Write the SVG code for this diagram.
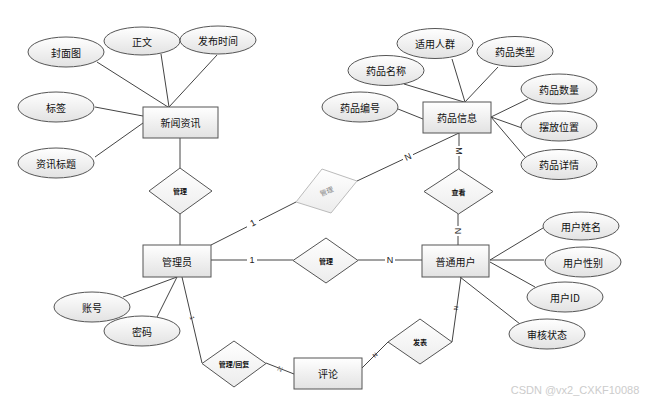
<svg xmlns="http://www.w3.org/2000/svg" width="655" height="404" viewBox="0 0 655 404">
<defs>
<linearGradient id="g" x1="0" y1="0" x2="0" y2="1">
<stop offset="0" stop-color="#ffffff"/>
<stop offset="1" stop-color="#e2e2e2"/>
</linearGradient>
<linearGradient id="gd" x1="0" y1="0" x2="0" y2="1">
<stop offset="0" stop-color="#ffffff"/>
<stop offset="1" stop-color="#ececec"/>
</linearGradient>
<style>
.b{fill:url(#g);stroke:#555;stroke-width:1}
.e{fill:url(#g);stroke:#555;stroke-width:1}
.d{fill:url(#gd);stroke:#555;stroke-width:1}
.dg{fill:url(#gd);stroke:#bbb;stroke-width:1}
.t{font-family:"Noto Sans CJK SC","Liberation Sans",sans-serif;font-size:10px;fill:#111;text-anchor:middle;dominant-baseline:central}
.s{font-family:"Noto Sans CJK SC","Liberation Sans",sans-serif;font-size:7px;font-weight:bold;fill:#111;text-anchor:middle;dominant-baseline:central}
.l{font-family:"Liberation Sans",sans-serif;font-size:9px;fill:#222;text-anchor:middle;dominant-baseline:central}
.c line,.c polyline{stroke:#444;stroke-width:1;fill:none}
</style>
</defs>
<rect width="655" height="404" fill="#fff"/>
<g class="c" id="connectors">
<line x1="97" y1="62" x2="168" y2="107"/>
<line x1="161" y1="54" x2="169" y2="107"/>
<line x1="217" y1="55" x2="169" y2="107"/>
<line x1="95" y1="107" x2="143" y2="116"/>
<line x1="95" y1="157" x2="143" y2="123"/>
<line x1="180" y1="138" x2="180" y2="168"/>
<line x1="180" y1="214" x2="180" y2="245"/>
<line x1="211" y1="245" x2="296" y2="202"/>
<line x1="211" y1="260" x2="293" y2="260"/>
<line x1="123" y1="297" x2="177" y2="277"/>
<line x1="157" y1="317" x2="177" y2="277"/>
<line x1="182" y1="277" x2="202" y2="363"/>
<line x1="266" y1="363" x2="294" y2="374"/>
<line x1="358" y1="260" x2="422" y2="260"/>
<line x1="459" y1="133" x2="459" y2="169"/>
<line x1="458" y1="214" x2="458" y2="245"/>
<line x1="459" y1="133" x2="357" y2="181"/>
<line x1="452" y1="59" x2="465" y2="102"/>
<line x1="498" y1="67" x2="465" y2="102"/>
<line x1="404" y1="84" x2="464" y2="102"/>
<line x1="398" y1="109" x2="423" y2="119"/>
<line x1="528" y1="99" x2="491" y2="117"/>
<line x1="491" y1="117" x2="522" y2="128"/>
<line x1="491" y1="117" x2="525" y2="157"/>
<line x1="490" y1="260" x2="543" y2="228"/>
<line x1="490" y1="260" x2="544" y2="260"/>
<line x1="490" y1="262" x2="535" y2="287"/>
<line x1="460" y1="277" x2="520" y2="324"/>
<line x1="461" y1="277" x2="452" y2="342"/>
<line x1="388" y1="342" x2="362" y2="368"/>
<rect x="247" y="217" width="12" height="11" fill="#fff" stroke="none"/>
<text class="l" x="253" y="223" transform="rotate(-27 253 223)">1</text>
<rect x="247" y="255" width="10" height="10" fill="#fff" stroke="none"/>
<text class="l" x="252" y="260">1</text>
<rect x="385" y="255" width="10" height="10" fill="#fff" stroke="none"/>
<text class="l" x="390" y="260">N</text>
<rect x="403" y="152" width="10" height="10" fill="#fff" stroke="none"/>
<text class="l" x="408" y="157" transform="rotate(-25 408 157)">N</text>
<rect x="454" y="146" width="10" height="10" fill="#fff" stroke="none"/>
<text class="l" x="459" y="151" transform="rotate(90 459 151)">M</text>
<rect x="453" y="226" width="10" height="10" fill="#fff" stroke="none"/>
<text class="l" x="458" y="231" transform="rotate(90 458 231)">N</text>
<text class="l" x="456" y="308" style="font-size:6px" transform="rotate(-82 456 308)">N</text>
<text class="l" x="375" y="355" style="font-size:6px" transform="rotate(-45 375 355)">N</text>
<text class="l" x="192" y="318" style="font-size:6px" transform="rotate(77 192 318)">1</text>
<text class="l" x="280" y="369" style="font-size:7px;fill:#777" transform="rotate(22 280 369)">N</text>
</g>
<g id="xinwen"><rect class="b" x="143" y="107" width="75" height="31"/><text class="t" x="180.5" y="122.5">新闻资讯</text></g>
<g id="fengmiantu"><ellipse class="e" cx="66" cy="52" rx="38" ry="15"/><text class="t" x="66" y="52">封面图</text></g>
<g id="zhengwen"><ellipse class="e" cx="142" cy="41" rx="38" ry="14"/><text class="t" x="142" y="41">正文</text></g>
<g id="fabushijian"><ellipse class="e" cx="218" cy="40" rx="38" ry="14"/><text class="t" x="218" y="40">发布时间</text></g>
<g id="biaoqian"><ellipse class="e" cx="56" cy="107" rx="38" ry="15"/><text class="t" x="56" y="107">标签</text></g>
<g id="zixunbiaoti"><ellipse class="e" cx="56" cy="163" rx="38" ry="15"/><text class="t" x="56" y="163">资讯标题</text></g>
<g id="guanli1"><polygon class="d" points="180,168 212,191 180,214 149,191"/><text class="s" x="180" y="191">管理</text></g>
<g id="guanliyuan"><rect class="b" x="143" y="245" width="68" height="32"/><text class="t" x="177" y="261">管理员</text></g>
<g id="zhanghao"><ellipse class="e" cx="92" cy="307" rx="38" ry="15"/><text class="t" x="92" y="307">账号</text></g>
<g id="mima"><ellipse class="e" cx="142" cy="331" rx="38" ry="15"/><text class="t" x="142" y="331">密码</text></g>
<g id="guanli2"><polygon class="dg" points="322,169 357,181 331,213 296,202"/><text class="s" x="326.5" y="191" style="fill:#888;font-weight:normal" transform="rotate(-22 326.5 191)">管理</text></g>
<g id="guanli3"><polygon class="d" points="326,238 358,260.5 326,283 293,260.5"/><text class="s" x="326" y="260.5">管理</text></g>
<g id="guanlihuifu"><polygon class="d" points="234,341 266,363.5 234,387 202,363.5"/><text class="s" x="234" y="364">管理/回复</text></g>
<g id="pinglun"><rect class="b" x="294" y="358" width="68" height="31"/><text class="t" x="328" y="373.5">评论</text></g>
<g id="fabiao"><polygon class="d" points="420,319 452,342 420,364 388,342"/><text class="s" x="420" y="342">发表</text></g>
<g id="putongyonghu"><rect class="b" x="422" y="245" width="67" height="32"/><text class="t" x="455.5" y="261">普通用户</text></g>
<g id="chakan"><polygon class="d" points="458.5,169 493,191.5 458.5,214 424,191.5"/><text class="s" x="458.5" y="191.5">查看</text></g>
<g id="yaopinxinxi"><rect class="b" x="423" y="102" width="68" height="31"/><text class="t" x="457" y="117.5">药品信息</text></g>
<g id="shiyongrenqun"><ellipse class="e" cx="435" cy="43.5" rx="38" ry="15"/><text class="t" x="435" y="43.5">适用人群</text></g>
<g id="yaopinleixing"><ellipse class="e" cx="515" cy="51.5" rx="38" ry="15"/><text class="t" x="515" y="51.5">药品类型</text></g>
<g id="yaopinmingcheng"><ellipse class="e" cx="386" cy="70.5" rx="38" ry="15"/><text class="t" x="386" y="70.5">药品名称</text></g>
<g id="yaopinbianhao"><ellipse class="e" cx="360" cy="107" rx="38" ry="15"/><text class="t" x="360" y="107">药品编号</text></g>
<g id="yaopinshuliang"><ellipse class="e" cx="559" cy="89" rx="38" ry="15"/><text class="t" x="559" y="89">药品数量</text></g>
<g id="baifangweizhi"><ellipse class="e" cx="559" cy="126" rx="38" ry="15"/><text class="t" x="559" y="126">摆放位置</text></g>
<g id="yaopinxiangqing"><ellipse class="e" cx="559" cy="164.5" rx="38" ry="15"/><text class="t" x="559" y="164.5">药品详情</text></g>
<g id="yonghuxingming"><ellipse class="e" cx="581" cy="226" rx="38" ry="14"/><text class="t" x="581" y="226">用户姓名</text></g>
<g id="yonghuxingbie"><ellipse class="e" cx="583" cy="262" rx="38" ry="15"/><text class="t" x="583" y="262">用户性别</text></g>
<g id="yonghuid"><ellipse class="e" cx="565" cy="297" rx="38" ry="15"/><text class="t" x="565" y="297">用户ID</text></g>
<g id="shenhezhuangtai"><ellipse class="e" cx="547" cy="334" rx="38" ry="15"/><text class="t" x="547" y="334">审核状态</text></g>
<text x="575" y="390" font-family="Liberation Sans, sans-serif" font-size="11" fill="#cccccc" text-anchor="middle" dominant-baseline="central">CSDN @vx2_CXKF10088</text>
</svg>
